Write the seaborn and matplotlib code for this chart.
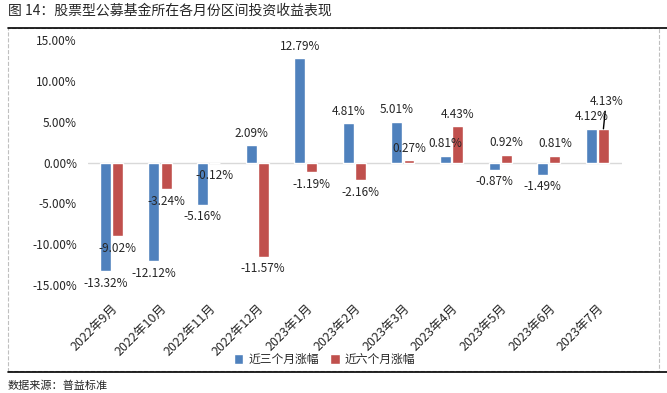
import matplotlib.pyplot as plt
import seaborn as sns
import pandas as pd
import numpy as np

sns.set_style('white')
plt.rcParams['font.family'] = ['Noto Sans CJK SC', 'DejaVu Sans']
plt.rcParams['axes.unicode_minus'] = False

months = ['2022年9月', '2022年10月', '2022年11月', '2022年12月', '2023年1月', '2023年2月',
          '2023年3月', '2023年4月', '2023年5月', '2023年6月', '2023年7月']
three_month = [-13.32, -12.12, -5.16, 2.09, 12.79, 4.81, 5.01, 0.81, -0.87, -1.49, 4.12]
six_month = [-9.02, -3.24, -0.12, -11.57, -1.19, -2.16, 0.27, 4.43, 0.92, 0.81, 4.13]
series = ['近三个月涨幅', '近六个月涨幅']
colors = ['#4F81BD', '#C0504D']

df = pd.DataFrame({
    'month': months * 2,
    'value': three_month + six_month,
    'series': [series[0]] * len(months) + [series[1]] * len(months),
})

fig = plt.figure(figsize=(6.67, 3.93), dpi=100)
ax = fig.add_axes([0.132, 0.275, 0.8, 0.623])

sns.barplot(data=df, x='month', y='value', hue='series', palette=colors,
            width=0.5, gap=0.1, ax=ax, legend=True, saturation=1)

ax.set_ylim(-15, 15)
ax.set_xlim(-0.48, 10.5)
ax.set_yticks(np.arange(-15, 16, 5))
ax.set_yticklabels([f'{v:.2f}%' for v in np.arange(-15, 16, 5)], fontsize=8.5)
ax.set_xticks(range(len(months)))
ax.set_xticklabels(months, rotation=45, ha='right', rotation_mode='anchor', fontsize=9)
ax.tick_params(axis='y', length=0, pad=8)
ax.tick_params(axis='x', length=0, pad=12)
ax.set_xlabel('')
ax.set_ylabel('')
for s in ax.spines.values():
    s.set_visible(False)
ax.axhline(0, color='#D9D9D9', linewidth=1, zorder=0)

# data labels
for ci, cont in enumerate(ax.containers):
    vals = three_month if ci == 0 else six_month
    for i, (bar, v) in enumerate(zip(cont, vals)):
        x = bar.get_x() + bar.get_width() / 2
        if ci == 1 and i == len(months) - 1:
            # leader line for last label
            ax.annotate(f'{v:.2f}%', (x, v), xytext=(2, 15), textcoords='offset points',
                        ha='center', va='bottom', fontsize=8.5,
                        arrowprops=dict(arrowstyle='-', color='black', lw=1,
                                        shrinkA=0, shrinkB=0))
            continue
        if v >= 0:
            ax.annotate(f'{v:.2f}%', (x, v), xytext=(0, 4), textcoords='offset points',
                        ha='center', va='bottom', fontsize=8.5)
        else:
            ax.annotate(f'{v:.2f}%', (x, v), xytext=(0, -4), textcoords='offset points',
                        ha='center', va='top', fontsize=8.5)

leg = ax.legend(loc='center', bbox_to_anchor=(0.443, -0.305), ncol=2, frameon=False,
                fontsize=8.5, handlelength=0.8, handleheight=0.8, handletextpad=0.4,
                columnspacing=1.0)

# title, frame lines and source
fig.text(0.012, 0.972, '图 14：股票型公募基金所在各月份区间投资收益表现', fontsize=10, va='center', ha='left')
fig.add_artist(plt.Line2D([0.012, 1.0], [0.929, 0.929], color='black', lw=1.2))
fig.add_artist(plt.Rectangle((0.012, 0.056), 0.976, 0.873, fill=False, ec='#BFBFBF',
                             ls='--', lw=0.8))
fig.add_artist(plt.Line2D([0.012, 1.0], [0.053, 0.053], color='black', lw=1.2))
fig.text(0.012, 0.018, '数据来源：普益标准', fontsize=8, va='center', ha='left')

fig.savefig('out.png', dpi=100)
